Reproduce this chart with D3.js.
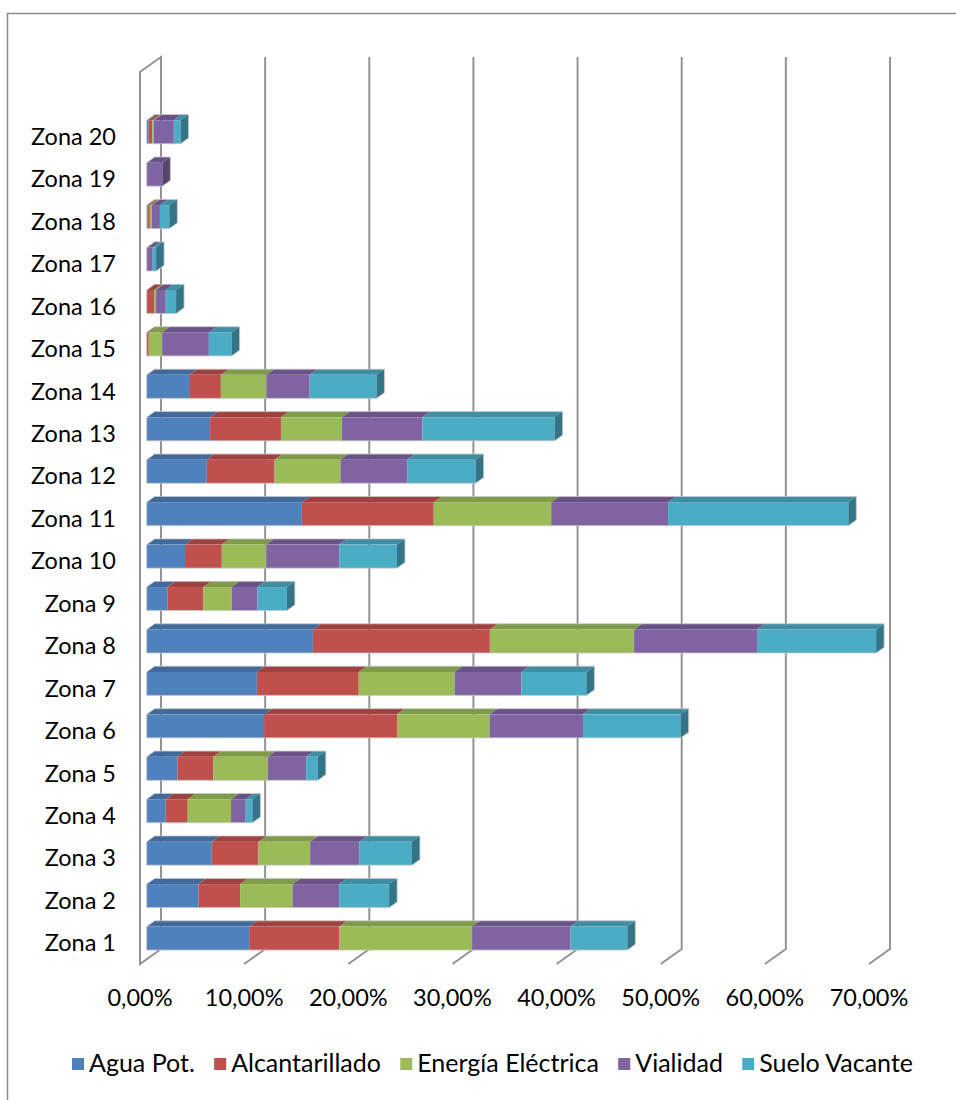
<!DOCTYPE html>
<html><head><meta charset="utf-8">
<script src="https://cdn.jsdelivr.net/npm/d3@7"></script>
<style>html,body{margin:0;padding:0;background:#fff;overflow:hidden} svg{display:block} svg text{font-family:Lato,"Open Sans",sans-serif;fill:#000}</style>
</head><body><svg id="c" width="956" height="1100"></svg>
<script>
const zones = ["Zona 1","Zona 2","Zona 3","Zona 4","Zona 5","Zona 6","Zona 7","Zona 8","Zona 9","Zona 10",
  "Zona 11","Zona 12","Zona 13","Zona 14","Zona 15","Zona 16","Zona 17","Zona 18","Zona 19","Zona 20"];
const seriesNames = ["Agua Pot.","Alcantarillado","Energía Eléctrica","Vialidad","Suelo Vacante"];
const seriesColors = ["#4F81BD","#C0504D","#9BBB59","#8064A2","#4BACC6"];
// values in percent
const aguaPot        = [9.84,4.97,6.25,1.83,2.95,11.28,10.58,15.96,2.02,3.68,14.90,5.77,6.09,4.07,0.00,0.00,0.00,0.10,0.00,0.20];
const alcantarillado = [8.65,4.00,4.48,2.11,3.46,12.76,9.78,16.99,3.43,3.53,12.66,6.51,6.80,3.05,0.20,0.70,0.00,0.20,0.00,0.35];
const energia        = [12.76,5.03,4.97,4.16,5.22,8.88,9.20,13.85,2.72,4.26,11.28,6.32,5.87,4.36,1.28,0.20,0.00,0.20,0.00,0.15];
const vialidad       = [9.45,4.48,4.74,1.41,3.68,8.97,6.41,11.80,2.47,7.02,11.22,6.41,7.72,4.17,4.49,0.93,0.58,0.77,1.50,1.90];
const sueloVacante   = [5.45,4.80,5.03,0.64,1.12,9.38,6.25,11.44,2.82,5.54,17.31,6.57,12.69,6.41,2.18,0.99,0.32,0.90,0.00,0.65];
const tickValues = [0,10,20,30,40,50,60,70];
const tickLabels = ["0,00%","10,00%","20,00%","30,00%","40,00%","50,00%","60,00%","70,00%"];

const seriesData = [aguaPot, alcantarillado, energia, vialidad, sueloVacante];
const table = zones.map((z,i)=>{const r={zone:z}; seriesNames.forEach((s,j)=>r[s]=seriesData[j][i]); return r;});

const svg = d3.select("#c");
const FS = 23.5, LFS = 25;

// outer frame
svg.append("rect").attr("x",7.5).attr("y",13.5).attr("width",1000).attr("height",1200)
  .attr("fill","none").attr("stroke","#8c8c8c").attr("stroke-width",1.5);

const wallDX = 21, wallDY = 15;
const xBack = d3.scaleLinear().domain([0,70]).range([161, 890]);
const xFront = d3.scaleLinear().domain([0,70]).range([161-wallDX, 890-wallDX]);
const xBar = d3.scaleLinear().domain([0,70]).range([146.7, 146.7+729]);
const yWallTop = 57, yWallBottom = 949;
const y = d3.scalePoint().domain(zones).range([938.3, 132]);
const barH = 23.5, bdx = 8, bdy = 5.7;

const grid = svg.append("g").attr("fill","none").attr("stroke","#939393").attr("stroke-width",2);
tickValues.forEach(v=>{
  const xb = xBack(v), xf = xFront(v);
  if (v === 0) {
    grid.append("path").attr("d",`M${xb},${yWallTop}L${xf},${yWallTop+wallDY}L${xf},${yWallBottom+wallDY}L${xb},${yWallBottom}Z`);
  } else {
    grid.append("path").attr("d",`M${xb},${yWallTop}L${xb},${yWallBottom}L${xf},${yWallBottom+wallDY}`);
  }
});

// stacked 3D bars
const stack = d3.stack().keys(seriesNames)(table);
const bars = svg.append("g");
zones.forEach((z,i)=>{
  const yc = y(z), y0 = yc - barH/2;
  let lastEnd = null, lastColor = null;
  stack.forEach((layer,j)=>{
    const a = layer[i][0], b = layer[i][1];
    if (b - a <= 0) return;
    const x0 = xBar(a), x1 = xBar(b);
    const c = d3.color(seriesColors[j]);
    bars.append("path").attr("d",`M${x0},${y0}L${x1},${y0}L${x1+bdx},${y0-bdy}L${x0+bdx},${y0-bdy}Z`)
      .attr("fill", c.darker(0.55).formatHex());
    bars.append("rect").attr("x",x0).attr("y",y0).attr("width",x1-x0).attr("height",barH)
      .attr("fill", c.formatHex());
    lastEnd = x1; lastColor = c;
  });
  if (lastEnd !== null) {
    bars.append("path").attr("d",`M${lastEnd},${y0}L${lastEnd+bdx},${y0-bdy}L${lastEnd+bdx},${y0+barH-bdy}L${lastEnd},${y0+barH}Z`)
      .attr("fill", lastColor.darker(1.1).formatHex());
    const xs = xBar(0);
    bars.append("path").attr("d",`M${xs},${y0+barH}L${xs},${y0}L${xs+bdx},${y0-bdy}L${lastEnd+bdx},${y0-bdy}L${lastEnd+bdx},${y0+barH-bdy}L${lastEnd},${y0+barH}Z`)
      .attr("fill","none").attr("stroke","#c8c8c8").attr("stroke-width",0.8);
  }
});

// category labels
svg.append("g").selectAll("text").data(zones).join("text")
  .attr("x",116).attr("y",d=>y(d)+13).attr("text-anchor","end").attr("font-size",FS).text(d=>d);

// value axis labels
svg.append("g").selectAll("text").data(tickValues).join("text")
  .attr("x",d=>xFront(d)).attr("y",1006).attr("text-anchor","middle").attr("font-size",FS)
  .text((d,i)=>tickLabels[i]);

// legend spanning x 72..913
const leg = svg.append("g");
const sw = 12, swGap = 5, legL = 72, legR = 913;
const items = seriesNames.map((s,i)=>{
  const g = leg.append("g");
  g.append("rect").attr("x",0).attr("y",-14).attr("width",sw).attr("height",sw).attr("fill",seriesColors[i]);
  const t = g.append("text").attr("x",sw+swGap).attr("y",0).attr("font-size",LFS).text(s);
  return {g, w: sw + swGap + t.node().getComputedTextLength()};
});
const sumW = d3.sum(items, d=>d.w);
const gap = (legR - legL - sumW) / (items.length - 1);
let cx = legL;
items.forEach(it=>{ it.g.attr("transform",`translate(${cx},1072)`); cx += it.w + gap; });
</script></body></html>
